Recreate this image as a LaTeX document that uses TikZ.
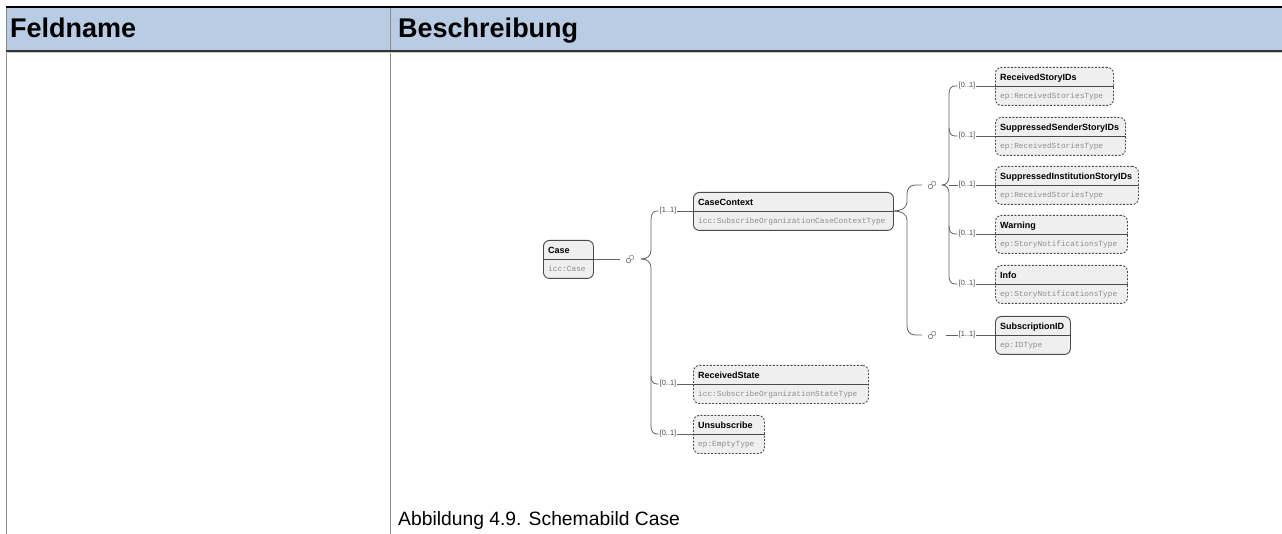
\documentclass[tikz,border=0pt]{standalone}
\usepackage{fontspec}
\setmainfont{Liberation Sans}
\newfontfamily\monofont{Liberation Mono}
\usetikzlibrary{calc}
\definecolor{hdrblue}{HTML}{B8CCE4}
\definecolor{boxfill}{HTML}{EFEFEF}
\definecolor{boxborder}{HTML}{4A4A4A}
\definecolor{linegrey}{HTML}{606060}
\definecolor{typegrey}{HTML}{8E8E8E}
\definecolor{cardgrey}{HTML}{4A4A4A}
\definecolor{icongrey}{HTML}{8A8A8A}
\definecolor{gridgrey}{HTML}{8A8A8A}
\newcommand\schemabox[7]{%
  \node[#2, minimum width=#5pt, minimum height=38pt, anchor=north west] (#1) at (#3,#4) {};
  \coordinate (#1-in) at ($(#1.north west)+(0,19)$);
  \coordinate (#1-out) at ($(#1.north east)+(0,19)$);
  \draw[sepline] (#1-in) -- (#1-out);
  \node[hdr, anchor=base west] (#1-h) at ($(#1.north west)+(5,13.5)$) {#6};
  \node[typ, anchor=base west] (#1-t) at ($(#1.north west)+(5,31.5)$) {#7};
}
\newcommand\seqicon[3]{%
  \coordinate (#1) at (#2,#3);
  \coordinate (#1-w) at ($(#1)+(-10,0)$);
  \coordinate (#1-e) at ($(#1)+(8,0)$);
  \draw[iconline, rounded corners=1pt] ($(#1)+(-3.6,-0.4)$) rectangle ($(#1)+(0.4,3.6)$);
  \draw[iconline, rounded corners=1pt] ($(#1)+(-0.4,-3.6)$) rectangle ($(#1)+(3.6,0.4)$);
}
\begin{document}
\begin{tikzpicture}[x=1pt,y=-1pt,
  schemabox/.style={draw=boxborder, fill=boxfill, rounded corners=6pt, line width=0.9pt, inner sep=0pt},
  optbox/.style={schemabox, dash pattern=on 2pt off 1.5pt},
  sepline/.style={draw=boxborder, line width=0.8pt},
  hdr/.style={font=\fontsize{9}{10}\selectfont\bfseries, inner sep=0pt, text=black},
  typ/.style={font=\monofont\fontsize{7.8}{9}\selectfont, text=typegrey, inner sep=0pt},
  card/.style={font=\fontsize{7.4}{8}\selectfont, text=cardgrey, inner sep=1pt},
  conn/.style={draw=linegrey, line width=0.8pt},
  iconline/.style={draw=icongrey, line width=0.7pt},
  grid/.style={draw=gridgrey, line width=1pt},
  thtext/.style={font=\fontsize{27}{32}\selectfont\bfseries, inner sep=0pt, anchor=base west},
  captext/.style={font=\fontsize{19.3}{23}\selectfont, inner sep=0pt, anchor=base west}]
\useasboundingbox (0,0) rectangle (1282,534);
% table
\fill[hdrblue] (6,7) rectangle (1282,51);
\coordinate (tl) at (6,7);
\coordinate (tr) at (1282,7);
\coordinate (hl) at (6,51);
\coordinate (hr) at (1282,51);
\coordinate (dtop) at (390,7);
\coordinate (dbot) at (390,534);
\coordinate (lbot) at (6,534);
\draw[grid] (tl) -- (lbot);
\draw[grid] (dtop) -- (dbot);
\draw[black, line width=1.5pt] (tl) -- (tr);
\draw[black!80, line width=1.3pt] (hl) -- (hr);
\draw[black!20, line width=0.8pt] ($(hl)+(0,1.5)$) -- ($(hr)+(0,1.5)$);
\node[thtext] (thA) at (10,38) {Feldname};
\node[thtext] (thB) at (398,38) {Beschreibung};
\node[captext] (caption) at (398,525.5) {Abbildung 4.9. Schemabild Case};
% boxes
\schemabox{case}{schemabox}{543}{240}{50}{Case}{icc:Case}
\schemabox{ctx}{schemabox}{693}{192}{200}{CaseContext}{icc:SubscribeOrganizationCaseContextType}
\schemabox{rsid}{optbox}{995}{67}{118}{ReceivedStoryIDs}{ep:ReceivedStoriesType}
\schemabox{sssid}{optbox}{995}{117}{130}{SuppressedSenderStoryIDs}{ep:ReceivedStoriesType}
\schemabox{sisid}{optbox}{995}{166}{143}{SuppressedInstitutionStoryIDs}{ep:ReceivedStoriesType}
\schemabox{warn}{optbox}{995}{215}{132}{Warning}{ep:StoryNotificationsType}
\schemabox{info}{optbox}{995}{265}{132}{Info}{ep:StoryNotificationsType}
\schemabox{subid}{schemabox}{995}{316}{75}{SubscriptionID}{ep:IDType}
\schemabox{rstate}{optbox}{693}{365}{175}{ReceivedState}{icc:SubscribeOrganizationStateType}
\schemabox{unsub}{optbox}{693}{415}{71}{Unsubscribe}{ep:EmptyType}
% sequence icons
\seqicon{seqA}{630}{259}
\seqicon{seqB}{932}{185}
\seqicon{seqC}{932}{335}
% cardinality labels
\node[card] (c-ctx) at (668,211) {[1..1]};
\node[card] (c-rstate) at (668,384) {[0..1]};
\node[card] (c-unsub) at (668,434) {[0..1]};
\node[card] (c-rsid) at (967,86) {[0..1]};
\node[card] (c-sssid) at (967,136) {[0..1]};
\node[card] (c-sisid) at (967,185) {[0..1]};
\node[card] (c-warn) at (967,234) {[0..1]};
\node[card] (c-info) at (967,284) {[0..1]};
\node[card] (c-subid) at (967,335) {[1..1]};
% Case -> sequence A
\draw[conn] (case-out) -- (seqA-w);
% brace 1
\coordinate (b1tip) at (641,259);
\draw[conn] (b1tip) .. controls (647,259) and (651,256) .. (651,250) -- (651,220)
  .. controls (651,214) and (653,211) .. (657,211) -- (c-ctx.west);
\draw[conn] (b1tip) .. controls (647,259) and (651,262) .. (651,268) -- (651,426)
  .. controls (651,431) and (653,434) .. (657,434) -- (c-unsub.west);
\draw[conn] (651,376) .. controls (651,381) and (653,384) .. (657,384) -- (c-rstate.west);
\draw[conn] (c-ctx.east) -- (ctx-in);
\draw[conn] (c-rstate.east) -- (rstate-in);
\draw[conn] (c-unsub.east) -- (unsub-in);
% CaseContext -> sequences B and C
\draw[conn] (ctx-out) .. controls (901,211) and (907,208) .. (907,202) -- (907,194)
  .. controls (907,188) and (910,185) .. (916,185) -- (seqB-w);
\draw[conn] (ctx-out) .. controls (901,211) and (907,214) .. (907,220) -- (907,326)
  .. controls (907,332) and (910,335) .. (916,335) -- (seqC-w);
% brace 2
\coordinate (b2tip) at (942,185);
\draw[conn] (b2tip) .. controls (946,185) and (949,182) .. (949,177) -- (949,94)
  .. controls (949,89) and (951,86) .. (955,86) -- (c-rsid.west);
\draw[conn] (b2tip) .. controls (946,185) and (949,188) .. (949,193) -- (949,276)
  .. controls (949,281) and (951,284) .. (955,284) -- (c-info.west);
\draw[conn] (949,128) .. controls (949,133) and (951,136) .. (955,136) -- (c-sssid.west);
\draw[conn] (949,185) -- (c-sisid.west);
\draw[conn] (949,226) .. controls (949,231) and (951,234) .. (955,234) -- (c-warn.west);
\draw[conn] (c-rsid.east) -- (rsid-in);
\draw[conn] (c-sssid.east) -- (sssid-in);
\draw[conn] (c-sisid.east) -- (sisid-in);
\draw[conn] (c-warn.east) -- (warn-in);
\draw[conn] (c-info.east) -- (info-in);
% sequence C -> SubscriptionID
\draw[conn] ($(seqC-e)+(6,0)$) -- (c-subid.west);
\draw[conn] (c-subid.east) -- (subid-in);
\end{tikzpicture}
\end{document}
